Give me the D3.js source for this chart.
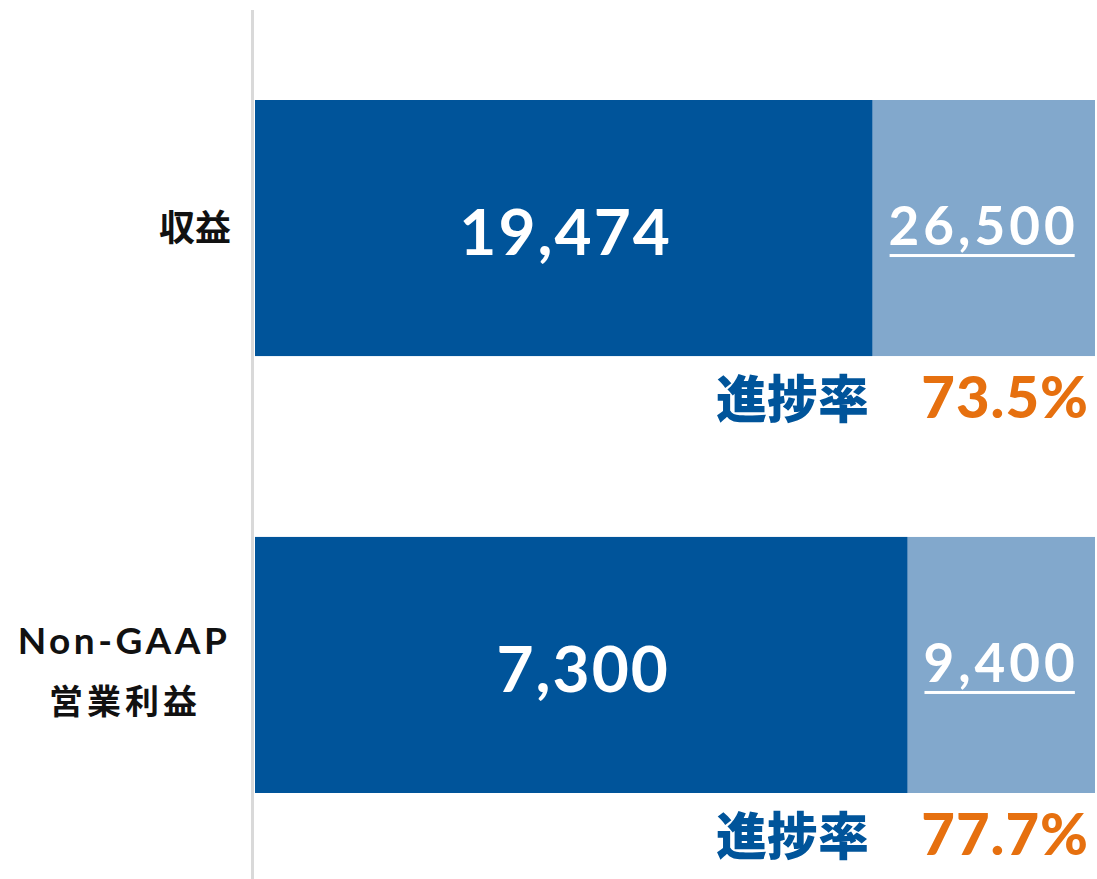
<!DOCTYPE html>
<html>
<head>
<meta charset="utf-8">
<script src="https://cdn.jsdelivr.net/npm/d3@7/dist/d3.min.js"></script>
<style>
  html, body { margin: 0; padding: 0; background: #fff; }
  svg { display: block; }
  .cat { font-family: "Noto Sans CJK JP", sans-serif; font-weight: 700; fill: #111; }
  .cat-en { font-family: Lato, "Noto Sans", sans-serif; font-weight: 700; fill: #111; }
  .num { font-family: Lato, "Noto Sans", sans-serif; font-weight: 700; fill: #fff; }
  .rate-label { font-family: "Noto Sans CJK JP", sans-serif; font-weight: 900; fill: #00549a; }
  .rate { font-family: Lato, "Noto Sans", sans-serif; font-weight: 900; fill: #e6700f; }
</style>
</head>
<body>
<svg id="chart"></svg>
<script>
// data
const categories = ["revenue", "opIncome"];
const categoryLines = [["収益"], ["Non-GAAP", "営業利益"]];
const actuals = [19474, 7300];
const targets = [26500, 9400];
const rates = [73.5, 77.7];
const rateLabel = "進捗率";

const width = 1097, height = 879;
const colors = { actual: "#00549a", target: "#82a8cc", axis: "#d9d9d9" };

const svg = d3.select("#chart")
  .attr("width", width)
  .attr("height", height);

// x = share of target, y = category band
const x = d3.scaleLinear().domain([0, 1]).range([255, 1095]);
const y = d3.scaleBand()
  .domain(categories)
  .range([100, 793])
  .paddingInner(0.414)
  .paddingOuter(0);

const fmt = d3.format(",");

// vertical axis line
svg.append("line")
  .attr("x1", 252.5).attr("x2", 252.5)
  .attr("y1", 10).attr("y2", height)
  .attr("stroke", colors.axis)
  .attr("stroke-width", 3);

const rows = svg.selectAll("g.row")
  .data(categories)
  .enter()
  .append("g")
  .attr("class", "row");

// target (full) bar
rows.append("rect")
  .attr("x", x(0))
  .attr("y", d => y(d))
  .attr("width", x(1) - x(0))
  .attr("height", y.bandwidth())
  .attr("fill", colors.target);

// actual bar
rows.append("rect")
  .attr("x", x(0))
  .attr("y", d => y(d))
  .attr("width", (d, i) => x(actuals[i] / targets[i]) - x(0))
  .attr("height", y.bandwidth())
  .attr("fill", colors.actual);

// actual value
rows.append("text")
  .attr("class", "num")
  .attr("x", (d, i) => (x(0) + x(actuals[i] / targets[i])) / 2 + 2)
  .attr("y", d => y(d) + y.bandwidth() / 2 + 27)
  .attr("text-anchor", "middle")
  .style("font-size", "64px")
  .style("letter-spacing", "2px")
  .text((d, i) => fmt(actuals[i]));

// target value, underlined
rows.each(function (d, i) {
  const g = d3.select(this);
  const cx = (x(actuals[i] / targets[i]) + x(1)) / 2;
  const t = g.append("text")
    .attr("class", "num")
    .attr("x", cx)
    .attr("y", y(d) + y.bandwidth() / 2 + 17)
    .attr("text-anchor", "middle")
    .style("font-size", "53px")
    .style("letter-spacing", "4px")
    .text(fmt(targets[i]));
  const bb = t.node().getBBox();
  g.append("rect")
    .attr("x", bb.x + 1)
    .attr("y", y(d) + y.bandwidth() / 2 + 26)
    .attr("width", bb.width - 5)
    .attr("height", 3)
    .attr("fill", "#fff");
});

// progress rate row
rows.append("text")
  .attr("class", "rate-label")
  .attr("x", 869)
  .attr("y", d => y(d) + y.bandwidth() + 62)
  .attr("text-anchor", "end")
  .style("font-size", "51px")
  .text(rateLabel);

rows.append("text")
  .attr("class", "rate")
  .attr("x", 1089)
  .attr("y", d => y(d) + y.bandwidth() + 62)
  .attr("text-anchor", "end")
  .style("font-size", "58px")
  .style("letter-spacing", "1px")
  .text((d, i) => rates[i].toFixed(1) + "%");

// category labels
rows.each(function (d, i) {
  const g = d3.select(this);
  const lines = categoryLines[i];
  const cy = y(d) + y.bandwidth() / 2;
  if (lines.length === 1) {
    g.append("text")
      .attr("class", "cat")
      .attr("x", 231)
      .attr("y", cy + 13)
      .attr("text-anchor", "end")
      .style("font-size", "36px")
      .text(lines[0]);
  } else {
    g.append("text")
      .attr("class", "cat-en")
      .attr("x", 124)
      .attr("y", cy - 11)
      .attr("text-anchor", "middle")
      .style("font-size", "37px")
      .style("letter-spacing", "3.5px")
      .text(lines[0]);
    g.append("text")
      .attr("class", "cat")
      .attr("x", 125)
      .attr("y", cy + 49)
      .attr("text-anchor", "middle")
      .style("font-size", "34px")
      .style("letter-spacing", "4px")
      .text(lines[1]);
  }
});
</script>
</body>
</html>
